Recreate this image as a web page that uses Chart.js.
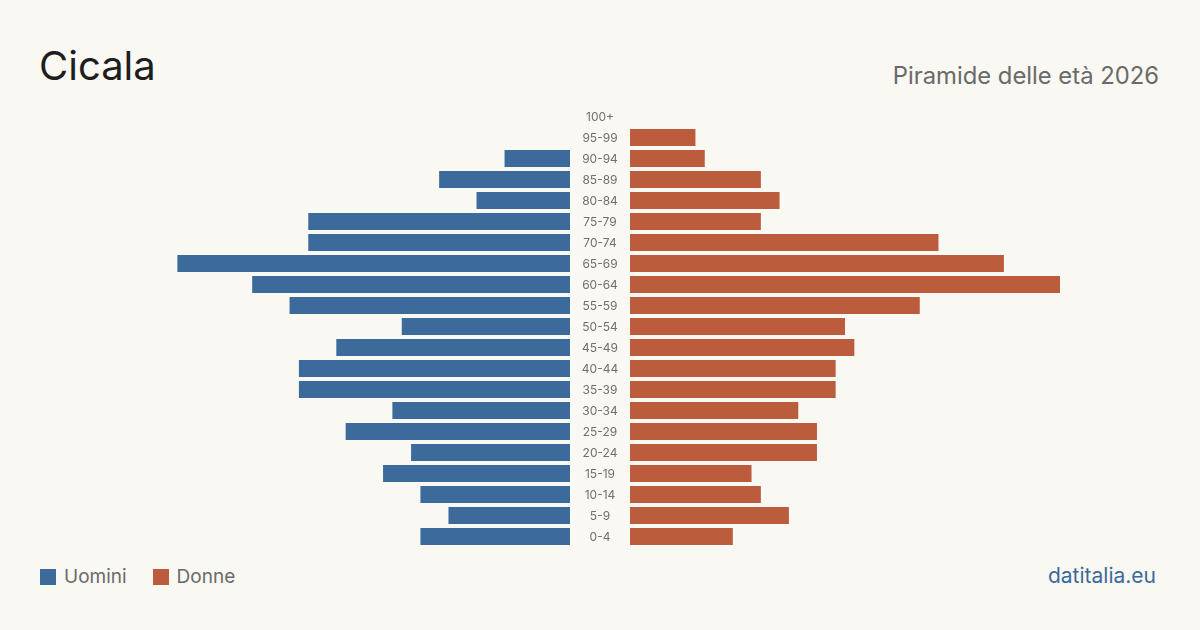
<!DOCTYPE html>
<html lang="it">
<head>
<meta charset="utf-8">
<title>Cicala - Piramide delle età 2026</title>
<script src="https://cdn.jsdelivr.net/npm/chart.js@4/dist/chart.umd.min.js"></script>
<style>
  html, body { margin: 0; padding: 0; }
  body {
    width: 1200px; height: 630px; position: relative; overflow: hidden;
    background: #f9f8f3; font-family: Inter, "Noto Sans", sans-serif; color: #222;
  }
  .title { position: absolute; left: 39px; top: 40px; font-size: 40px; line-height: 52px; color: #1e1e1e; }
  .subtitle { position: absolute; right: 41px; top: 61px; font-size: 23.8px; line-height: 30px; color: #6a6a6a; }
  .legend { position: absolute; left: 40px; top: 564px; font-size: 19px; line-height: 26px; color: #6a6a6a; display: flex; }
  .legend span { display: flex; align-items: center; margin-right: 26px; }
  .legend i { display: inline-block; width: 16px; height: 16px; margin-right: 8px; }
  .site { position: absolute; right: 44px; top: 562px; font-size: 21px; line-height: 28px; color: #3c6a9b; }
  #left { position: absolute; left: 140px; top: 106px; }
  #right { position: absolute; left: 570px; top: 106px; }
</style>
</head>
<body>
<div class="title">Cicala</div>
<div class="subtitle">Piramide delle età 2026</div>
<div class="legend">
  <span><i style="background:#3c6a9b"></i>Uomini</span>
  <span><i style="background:#bb5d3c"></i>Donne</span>
</div>
<div class="site">datitalia.eu</div>
<canvas id="left" width="430" height="441"></canvas>
<canvas id="right" width="490" height="441"></canvas>
<script>
// ---------- dati (dal basso verso l'alto) ----------
const ageGroups = ['0-4','5-9','10-14','15-19','20-24','25-29','30-34','35-39','40-44','45-49',
                   '50-54','55-59','60-64','65-69','70-74','75-79','80-84','85-89','90-94','95-99','100+'];
const uomini = [16, 13, 16, 20, 17, 24, 19, 29, 29, 25, 18, 30, 34, 42, 28, 28, 10, 14, 7, 0, 0];
const donne  = [11, 17, 14, 13, 20, 20, 18, 22, 22, 24, 23, 31, 46, 40, 33, 14, 16, 14, 8, 7, 0];
const xMax = 46;

const BLUE = '#3c6a9b';
const ORANGE = '#bb5d3c';
const GAP = 60; // spazio centrale per le etichette

function baseOptions() {
  return {
    indexAxis: 'y',
    responsive: false,
    animation: false,
    layout: { padding: 0 },
    plugins: { legend: { display: false }, tooltip: { enabled: false } },
    scales: {
      x: { min: 0, max: xMax, display: false },
      y: { reverse: true, display: false }
    }
  };
}

// ---- etichette delle classi d'età al centro ----
const centerLabels = {
  id: 'centerLabels',
  afterDraw(chart) {
    const { ctx, scales: { y } } = chart;
    ctx.save();
    ctx.fillStyle = '#6f6f6f';
    ctx.font = '12px Inter, "Noto Sans", sans-serif';
    ctx.textAlign = 'center';
    ctx.textBaseline = 'middle';
    ageGroups.forEach((g, i) => ctx.fillText(g, GAP / 2, y.getPixelForValue(i) + 1));
    ctx.restore();
  }
};

// ---- uomini (a sinistra, asse invertito) ----
const leftOpts = baseOptions();
leftOpts.scales.x.reverse = true;
new Chart(document.getElementById('left'), {
  type: 'bar',
  data: {
    labels: ageGroups,
    datasets: [{ label: 'Uomini', data: uomini, backgroundColor: BLUE,
                 categoryPercentage: 0.81, barPercentage: 1 }]
  },
  options: leftOpts
});

// ---- donne (a destra) ----
const rightOpts = baseOptions();
rightOpts.layout.padding = { left: GAP };
new Chart(document.getElementById('right'), {
  type: 'bar',
  data: {
    labels: ageGroups,
    datasets: [{ label: 'Donne', data: donne, backgroundColor: ORANGE,
                 categoryPercentage: 0.81, barPercentage: 1 }]
  },
  options: rightOpts,
  plugins: [centerLabels]
});
</script>
</body>
</html>
